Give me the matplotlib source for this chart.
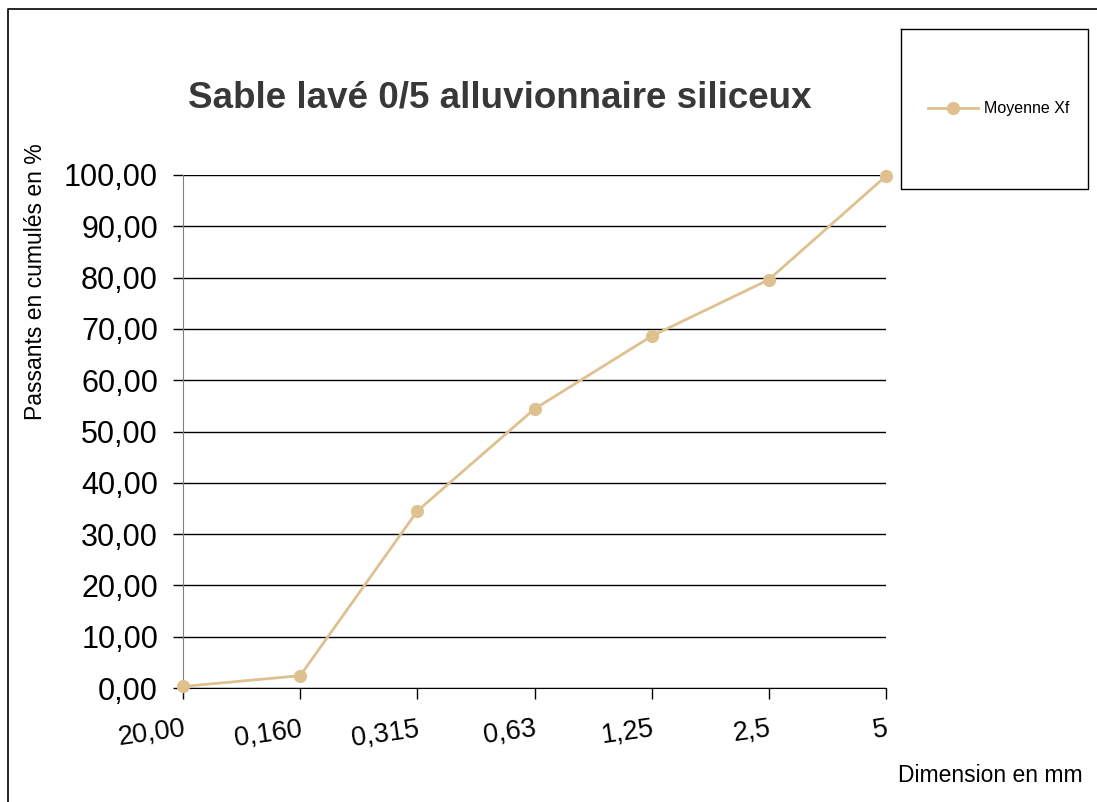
import matplotlib
matplotlib.use("Agg")
import matplotlib.pyplot as plt
from matplotlib.lines import Line2D

plt.rcParams['font.family'] = ['Liberation Sans', 'DejaVu Sans']

categories = ["20,00", "0,160", "0,315", "0,63", "1,25", "2,5", "5"]
values = [0.3, 2.4, 34.5, 54.4, 68.6, 79.6, 99.8]
yticks = [0, 10, 20, 30, 40, 50, 60, 70, 80, 90, 100]
series_name = "Moyenne Xf"
line_color = "#DFC08F"

W, H = 1097, 802
fig = plt.figure(figsize=(W / 100, H / 100), dpi=100)
ax = fig.add_axes([183 / W, 1 - 688 / H, (886 - 183) / W, (688 - 175) / H])

x = list(range(len(categories)))
ax.plot(x, values, color=line_color, lw=2, marker='o', markersize=8.5,
        label=series_name, clip_on=False, zorder=3)

ax.set_xlim(0, len(categories) - 1)
ax.set_ylim(0, 100)
ax.set_yticks(yticks)
ax.set_yticklabels([f"{v:.2f}".replace('.', ',') for v in yticks], fontsize=22)
ax.set_xticks(x)
ax.set_xticklabels(categories, fontsize=19.5, rotation=8, ha='right',
                   rotation_mode='anchor')
ax.tick_params(axis='x', length=8, width=1, color='black', pad=12)
ax.tick_params(axis='y', length=7, width=1, color='black', pad=11)
ax.yaxis.grid(True, color='black', lw=1)
ax.set_axisbelow(True)
for s in ['top', 'right']:
    ax.spines[s].set_visible(False)
ax.spines['left'].set_color('#808080')
ax.spines['bottom'].set_color('black')

fig.text(36 / W, 1 - 282 / H, "Passants en cumulés en %", fontsize=16.5,
         rotation=90, ha='center', va='center')
fig.text(1083 / W, 1 - 776 / H, "Dimension en mm", fontsize=16.5,
         ha='right', va='center')

fig.text(500 / W, 1 - 98 / H, "Sable lavé 0/5 alluvionnaire siliceux",
         fontsize=26.5, fontweight='bold', ha='center', va='center',
         color='#383838')

# legend box
leg = fig.legend(loc='center', bbox_to_anchor=(999 / W, 1 - 109 / H),
                 frameon=False, fontsize=11.5, handlelength=3.1,
                 handletextpad=0.4)
fig.add_artist(Line2D([901 / W, 1088 / W, 1088 / W, 901 / W, 901 / W],
                      [1 - 29 / H, 1 - 29 / H, 1 - 189 / H, 1 - 189 / H, 1 - 29 / H],
                      transform=fig.transFigure, color='black', lw=1))

# outer border (left and top edges)
fig.add_artist(Line2D([8 / W, 8 / W, 1.0], [0.0, 1 - 8.5 / H, 1 - 8.5 / H],
                      transform=fig.transFigure, color='black', lw=1.2))

fig.savefig("out.png", dpi=100)
